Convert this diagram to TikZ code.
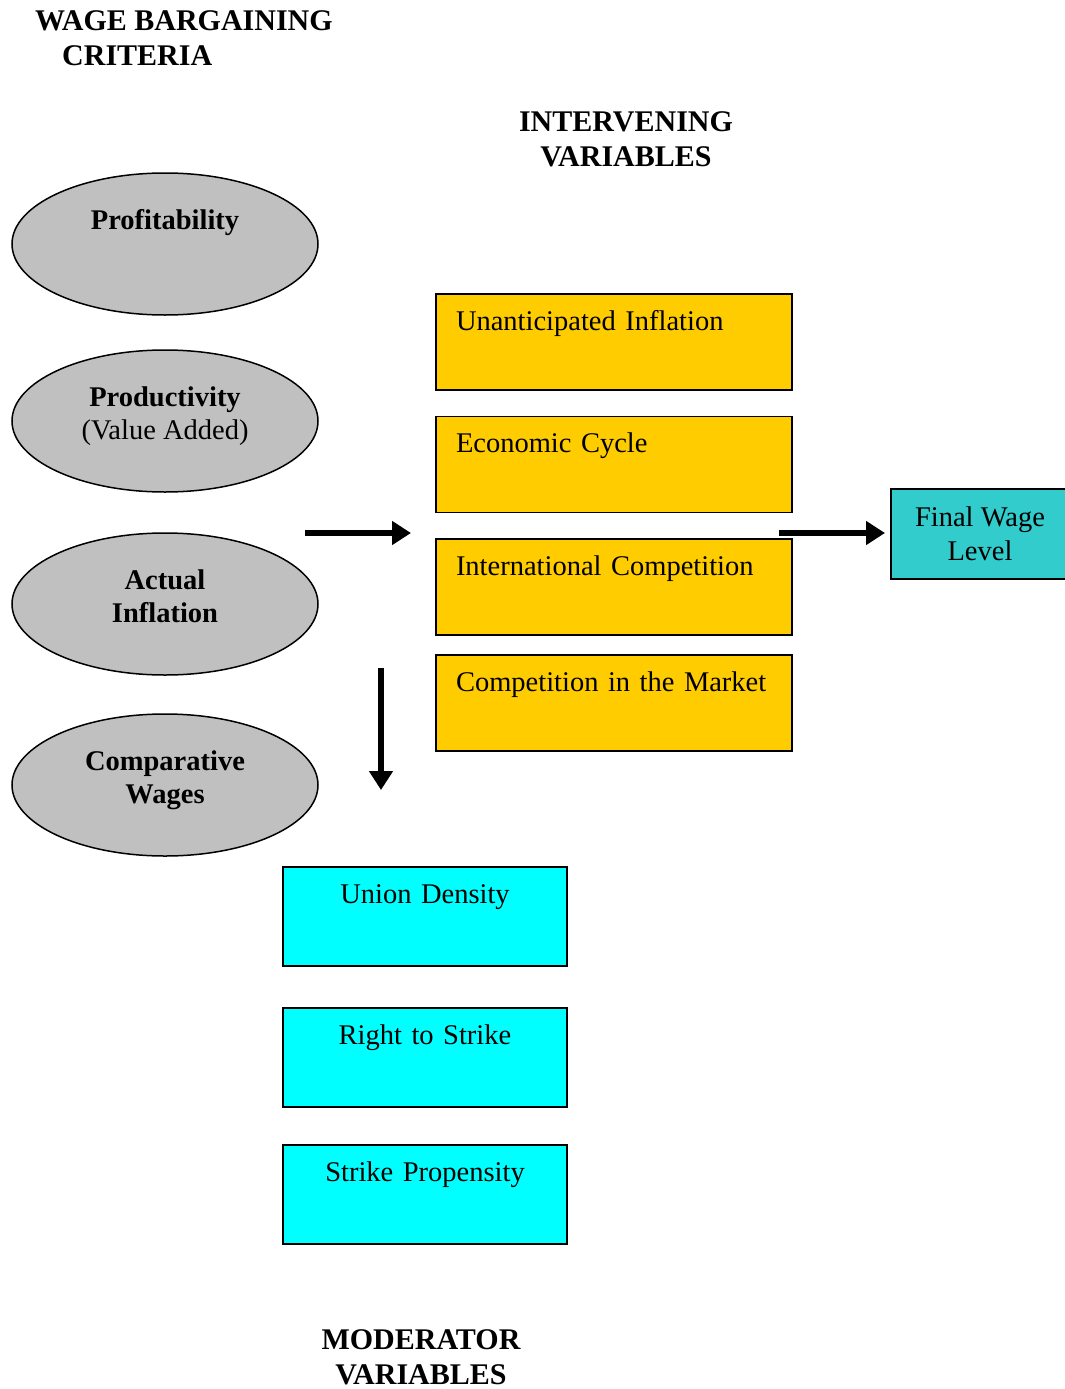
\documentclass[tikz,border=0pt]{standalone}
\usepackage{fontspec}
\setmainfont{Liberation Serif}
\usetikzlibrary{shapes.geometric}
\usetikzlibrary{arrows.meta}

\definecolor{critgrey}{HTML}{C0C0C0}
\definecolor{ivyellow}{HTML}{FFCC00}
\definecolor{mvcyan}{HTML}{00FFFF}
\definecolor{fwteal}{HTML}{33CCCC}

\begin{document}
\begin{tikzpicture}[x=1pt, y=-1pt, font=\fontsize{28.5pt}{34pt}\selectfont]

\useasboundingbox (0,0) rectangle (1065,1389);

\begin{scope}[font=\fontsize{30pt}{35.5pt}\selectfont\bfseries, inner sep=0pt, anchor=north]
  \node[align=left, anchor=north west] (TT_A) at (35,10)   {WAGE BARGAINING\\\hspace*{27pt}CRITERIA};
  \node[align=center]                  (TT_B) at (626,111) {INTERVENING\\VARIABLES};
  \node[align=center]                  (TT_C) at (421,1329) {MODERATOR\\VARIABLES};
\end{scope}

\begin{scope}[shape=ellipse, line width=1.5pt, minimum width=306pt, minimum height=142pt, inner sep=0pt]
  \node[draw, fill=critgrey] (CR_A) at (165,244) {};
  \node[draw, fill=critgrey] (CR_B) at (165,421) {};
  \node[draw, fill=critgrey] (CR_C) at (165,604) {};
  \node[draw, fill=critgrey] (CR_D) at (165,785) {};
\end{scope}

\begin{scope}[font=\fontsize{28.5pt}{33pt}\selectfont\bfseries, align=center, anchor=north, inner sep=0pt]
  \node (CT_A) at ([yshift=-37pt]CR_A.north) {Profitability};
  \node (CT_B) at ([yshift=-37pt]CR_B.north) {Productivity\\{\mdseries (Value Added)}};
  \node (CT_C) at ([yshift=-37pt]CR_C.north) {Actual\\Inflation};
  \node (CT_D) at ([yshift=-37pt]CR_D.north) {Comparative\\Wages};
\end{scope}

\begin{scope}[rectangle, line width=1.5pt, text width=316pt, inner xsep=20pt, inner ysep=0pt, text height=36pt, text depth=60pt, align=left]
  \node[draw, fill=ivyellow] (IV_A) at (614,342)   {Unanticipated Inflation};
  \node[draw, fill=ivyellow] (IV_B) at (614,464.5) {Economic Cycle};
  \node[draw, fill=ivyellow] (IV_C) at (614,587)   {International Competition};
  \node[draw, fill=ivyellow] (IV_D) at (614,703)   {Competition in the Market};
\end{scope}

\begin{scope}[rectangle, line width=1.5pt, text width=284pt, inner sep=0pt, text height=36pt, text depth=63pt, align=center]
  \node[draw, fill=mvcyan] (MV_A) at (425,916.5)  {Union Density};
  \node[draw, fill=mvcyan] (MV_B) at (425,1057.5) {Right to Strike};
  \node[draw, fill=mvcyan] (MV_C) at (425,1194.5) {Strike Propensity};
\end{scope}

\node[draw, fill=fwteal, rectangle, line width=1.5pt, minimum width=178pt, minimum height=90pt, inner sep=0pt, align=center] (FW) at (980,534) {Final Wage\\Level};

\coordinate (AR_A) at (305,533);
\coordinate (AR_B) at (411,533);
\coordinate (AR_C) at (779,533);
\coordinate (AR_D) at (885,533);
\coordinate (AR_E) at (381,668);
\coordinate (AR_F) at (381,790);

\begin{scope}[line width=6.5pt, -{Triangle[length=19pt,width=23pt]}]
\path (AR_A) edge (AR_B);
\path (AR_C) edge (AR_D);
\path (AR_E) edge (AR_F);
\end{scope}

\end{tikzpicture}
\end{document}
